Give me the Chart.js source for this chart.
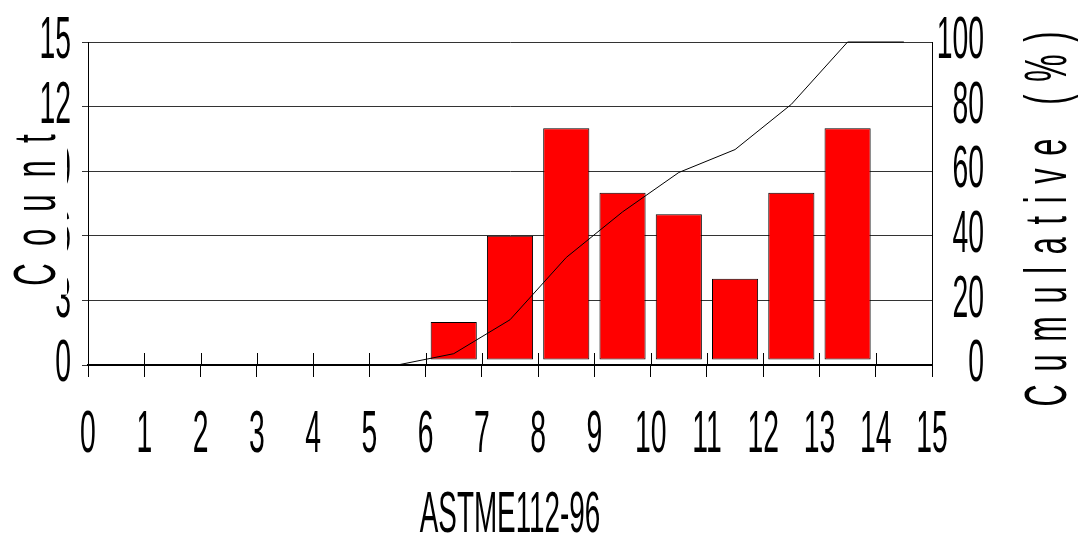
<!DOCTYPE html>
<html>
<head>
<meta charset="utf-8">
<script src="https://cdn.jsdelivr.net/npm/chart.js@4.4.1/dist/chart.umd.min.js"></script>
<style>
  html, body { margin: 0; padding: 0; background: #ffffff; }
  #wrap { position: relative; width: 1080px; height: 539px; }
</style>
</head>
<body>
<div id="wrap"><canvas id="chart"></canvas></div>
<script>
// Histogram of ASTM E112-96 grain size numbers with cumulative percentage
const binCenters = [6.5, 7.5, 8.5, 9.5, 10.5, 11.5, 12.5, 13.5];
const counts = [2, 6, 11, 8, 7, 4, 8, 11];

const cumulativeX = [5.5, 6.5, 7.5, 8.5, 9.5, 10.5, 11.5, 12.5, 13.5, 14.5];
const cumulativePct = [0, 3.5, 14.0, 33.3, 47.4, 59.6, 66.7, 80.7, 100, 100];

const xRange = [0, 15];
const countTicks = [0, 3, 6, 9, 12, 15];
const pctTicks = [0, 20, 40, 60, 80, 100];

const xTitle = 'ASTME112-96';
const countTitle = 'Count';
const pctTitle = 'Cumulative (%)';

const FAMILY = '"Liberation Sans", Arial, Helvetica, sans-serif';
Chart.defaults.font.family = FAMILY;
Chart.defaults.color = '#000';

// Narrow lettering: every string is drawn compressed along its own baseline.
const narrowText = {
  id: 'narrowText',
  beforeInit(chart) {
    const ctx = chart.ctx;
    ctx.squeeze = 0.48;
    const rawFill = ctx.fillText;
    const rawMeasure = ctx.measureText;
    ctx.fillText = function (text, x, y, maxWidth) {
      const k = this.squeeze || 1;
      this.save();
      this.translate(x, y);
      this.scale(k, 1);
      if (maxWidth === undefined) rawFill.call(this, text, 0, 0);
      else rawFill.call(this, text, 0, 0, maxWidth / k);
      this.restore();
    };
    ctx.measureText = function (text) {
      const m = rawMeasure.call(this, text);
      const k = this.squeeze || 1;
      return {
        width: m.width * k,
        actualBoundingBoxAscent: m.actualBoundingBoxAscent,
        actualBoundingBoxDescent: m.actualBoundingBoxDescent,
        actualBoundingBoxLeft: m.actualBoundingBoxLeft * k,
        actualBoundingBoxRight: m.actualBoundingBoxRight * k
      };
    };
  }
};

// Tick marks on the x axis cross the axis line (inner half drawn here).
const crossTicks = {
  id: 'crossTicks',
  beforeDatasetsDraw(chart) {
    const sx = chart.scales.x;
    const ctx = chart.ctx;
    const y0 = chart.chartArea.bottom;
    ctx.save();
    ctx.strokeStyle = '#000';
    ctx.lineWidth = 1;
    sx.ticks.forEach((t, i) => {
      const px = Math.round(sx.getPixelForTick(i)) + 0.5;
      ctx.beginPath();
      ctx.moveTo(px, y0 - 12);
      ctx.lineTo(px, y0);
      ctx.stroke();
    });
    ctx.restore();
  }
};

// Rotated, letter-spaced titles of the two value axes.
const axisTitles = {
  id: 'axisTitles',
  afterDraw(chart, args, opts) {
    const ctx = chart.ctx;
    const area = chart.chartArea;
    const midY = (area.top + area.bottom) / 2;
    opts.items.forEach(item => {
      const text = chart.options.scales[item.scale].title.text;
      const k = item.squeeze;
      const oldK = ctx.squeeze;
      ctx.save();
      ctx.squeeze = k;
      ctx.font = item.size + 'px ' + FAMILY;
      ctx.letterSpacing = (item.gap / k) + 'px';
      const len = ctx.measureText(text).width - item.gap;
      const cy = midY + item.shiftY;
      const bx = item.side === 'left' ? area.left + item.baseX : area.right + item.baseX;
      if (item.mask) {
        ctx.fillStyle = '#ffffff';
        ctx.fillRect(0, cy - len / 2 - 5, area.left - 21, len + 14);
      }
      ctx.translate(bx, cy + len / 2);
      ctx.rotate(-Math.PI / 2);
      ctx.fillStyle = '#000';
      ctx.textAlign = 'left';
      ctx.textBaseline = 'alphabetic';
      ctx.fillText(text, 0, 0);
      ctx.restore();
      ctx.squeeze = oldK;
    });
  }
};

const tickFont = { size: 59, lineHeight: 1 };

new Chart(document.getElementById('chart'), {
  type: 'bar',
  data: {
    datasets: [
      {
        type: 'line',
        label: pctTitle,
        data: cumulativeX.map((x, i) => ({ x, y: cumulativePct[i] })),
        yAxisID: 'y1',
        borderColor: '#000',
        borderWidth: 1,
        pointRadius: 0,
        tension: 0,
        fill: false,
        clip: false,
        order: 0
      },
      {
        type: 'bar',
        label: countTitle,
        data: binCenters.map((x, i) => ({ x, y: counts[i] })),
        yAxisID: 'y',
        backgroundColor: '#ff0000',
        borderColor: '#000',
        borderWidth: 1,
        borderSkipped: false,
        base: 0.25,
        barPercentage: 0.82,
        categoryPercentage: 1,
        order: 1
      }
    ]
  },
  options: {
    responsive: true,
    maintainAspectRatio: false,
    animation: false,
    events: [],
    layout: { padding: { top: 42, left: 0, right: 96, bottom: 0 } },
    plugins: {
      legend: { display: false },
      tooltip: { enabled: false },
      axisTitles: {
        items: [
          { scale: 'y', side: 'left', baseX: -33, shiftY: 6.5, size: 60, squeeze: 0.52, gap: 17, mask: true },
          { scale: 'y1', side: 'right', baseX: 134, shiftY: 15.5, size: 59, squeeze: 0.52, gap: 12.7, mask: false }
        ]
      }
    },
    scales: {
      x: {
        type: 'linear',
        position: 'bottom',
        min: xRange[0],
        max: xRange[1],
        offset: false,
        grid: { display: true, offset: false, drawOnChartArea: false, drawTicks: true, tickLength: 12, color: '#000', lineWidth: 1 },
        border: { display: true, color: '#000', width: 2 },
        ticks: { stepSize: 1, autoSkip: false, maxRotation: 0, padding: 29, font: tickFont, color: '#000' },
        title: { display: true, text: xTitle, color: '#000', font: { size: 58, lineHeight: 0.8 }, padding: 0 },
        afterFit(scale) { scale.height = 174; }
      },
      y: {
        type: 'linear',
        position: 'left',
        min: countTicks[0],
        max: countTicks[countTicks.length - 1],
        afterBuildTicks(scale) { scale.ticks = countTicks.map(v => ({ value: v })); },
        grid: { display: true, drawOnChartArea: true, drawTicks: true, tickLength: 6, color: '#333', lineWidth: 1 },
        border: { display: true, color: '#000', width: 1 },
        ticks: { padding: 11, font: tickFont, color: '#000' },
        title: { display: false, text: countTitle },
        afterFit(scale) { scale.width = 88; }
      },
      y1: {
        type: 'linear',
        position: 'right',
        min: pctTicks[0],
        max: pctTicks[pctTicks.length - 1],
        afterBuildTicks(scale) { scale.ticks = pctTicks.map(v => ({ value: v })); },
        grid: { display: false, drawOnChartArea: false, drawTicks: false },
        border: { display: true, color: '#000', width: 1 },
        ticks: { padding: 5, crossAlign: 'far', font: tickFont, color: '#000' },
        title: { display: false, text: pctTitle },
        afterFit(scale) { scale.width = 52; }
      }
    }
  },
  plugins: [narrowText, crossTicks, axisTitles]
});
</script>
</body>
</html>
